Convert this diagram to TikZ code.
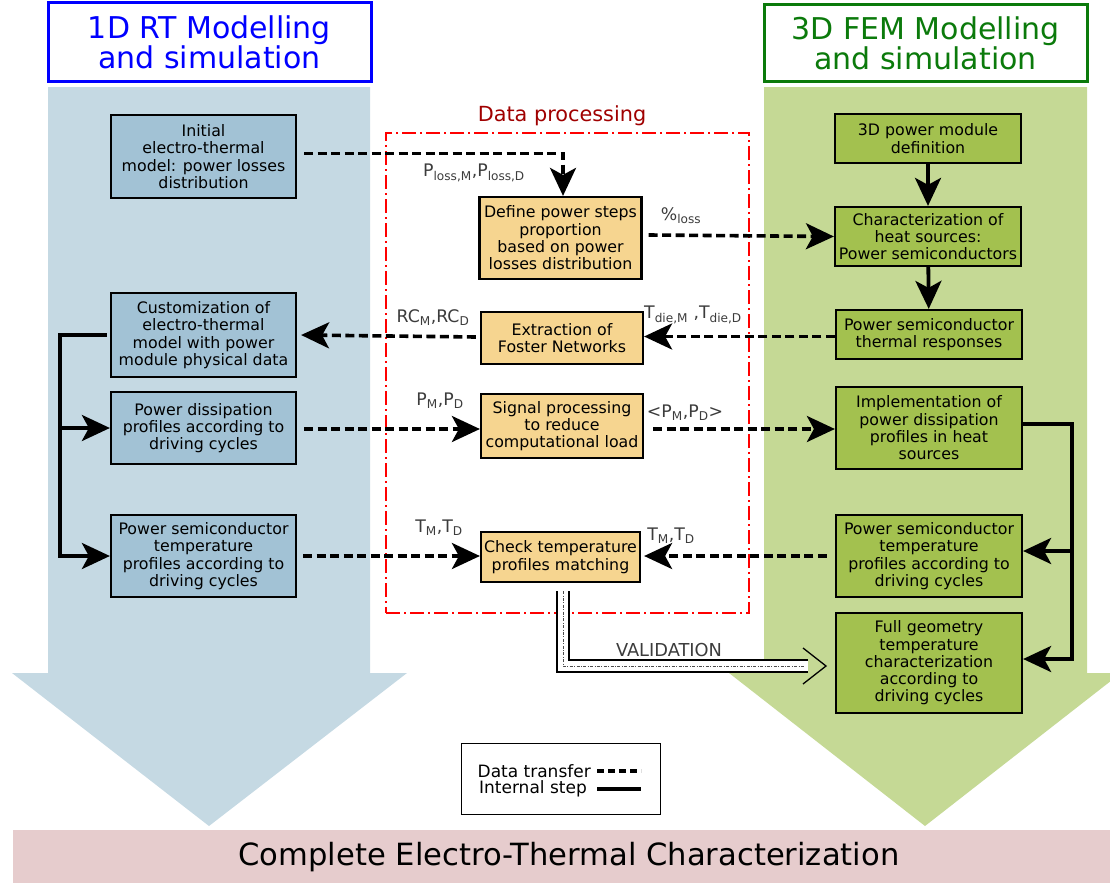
\documentclass[tikz,border=0pt]{standalone}
\usepackage{fontspec}
\setmainfont{DejaVu Sans}
\usetikzlibrary{arrows.meta}
\definecolor{lshaft}{HTML}{C5D9E3}
\definecolor{lnode}{HTML}{A2C2D5}
\definecolor{rshaft}{HTML}{C5D995}
\definecolor{rnode}{HTML}{A3C14F}
\definecolor{mnode}{HTML}{F6D590}
\definecolor{barpink}{HTML}{E6CCCD}
\definecolor{tgreen}{HTML}{0B7A0B}
\definecolor{tblue}{HTML}{0000FF}
\definecolor{dpred}{HTML}{A00000}
\definecolor{lblgray}{HTML}{3C3C3C}
\tikzset{
  box/.style={draw=black, line width=2.2pt, rectangle, align=center, inner sep=1pt,
    font=\fontsize{15.8}{17.3}\selectfont},
  lbox/.style={box, fill=lnode, minimum width=185pt},
  mbox/.style={box, fill=mnode, minimum width=162pt},
  rbox/.style={box, fill=rnode, minimum width=186pt},
  titlebox/.style={draw, line width=3pt, fill=white, minimum width=323pt, align=center,
    font=\fontsize{30}{30}\selectfont},
  tip/.style={-{Stealth[length=28pt,width=26pt,inset=7pt]}},
  dtrans/.style={tip, line width=3.6pt, dash pattern=on 9pt off 4.5pt},
  istep/.style={tip, line width=3.8pt},
  lbl/.style={text=lblgray, inner sep=0pt, font=\fontsize{17.3}{18}\selectfont},
}
\begin{document}
\begin{tikzpicture}[x=1pt,y=-1pt]
\useasboundingbox (0,0) rectangle (1110,883);
\clip (0,0) rectangle (1110,883);
% big arrows and bottom bar
\fill[lshaft] (48,87) -- (370,87) -- (370,673) -- (407,673) -- (209,826) -- (12,673) -- (48,673) -- cycle;
\fill[rshaft] (764,87) -- (1087,87) -- (1087,673) -- (1121,673) -- (925,826) -- (729,673) -- (764,673) -- cycle;
\fill[barpink] (13,830) rectangle (1110,883);
\node[font=\fontsize{30.6}{30}\selectfont, inner sep=0pt] (final) at (569,857) {Complete Electro-Thermal Characterization};
% titles
\node[titlebox, draw=tblue, text=tblue, minimum height=78pt] (ltitle) at (209.5,42) {1D RT Modelling\\and simulation};
\node[titlebox, draw=tgreen, text=tgreen, minimum height=76pt] (rtitle) at (925.5,43) {3D FEM Modelling\\and simulation};
% data processing frame
\node[draw=red, line width=2pt, dash pattern=on 14pt off 4pt on 2pt off 4pt, minimum width=363pt, minimum height=480pt] (dpbox) at (567.5,373) {};
\node[text=dpred, inner sep=0pt, font=\fontsize{20.8}{21}\selectfont] (dptitle) at (562,116) {Data processing};
% left nodes
\node[lbox, minimum height=83pt] (init) at (203.5,156.5) {Initial\\electro-thermal\\model: power losses\\distribution};
\node[lbox, minimum height=84pt] (cust) at (203.5,335) {Customization of\\electro-thermal\\model with power\\module physical data};
\node[lbox, minimum height=72pt] (diss) at (203.5,428) {Power dissipation\\profiles according to\\driving cycles};
\node[lbox, minimum height=82pt] (ltemp) at (203.5,556) {Power semiconductor\\temperature\\profiles according to\\driving cycles};
% middle nodes
\node[mbox, minimum height=82pt] (define) at (560.5,238) {Define power steps\\proportion\\based on power\\losses distribution};
\node[mbox, minimum height=52pt] (extract) at (562,338) {Extraction of\\Foster Networks};
\node[mbox, minimum height=64pt] (signal) at (562,426) {Signal processing\\to reduce\\computational load};
\node[mbox, minimum width=159pt, minimum height=50pt] (check) at (560.5,557) {Check temperature\\profiles matching};
% right nodes
\node[rbox, minimum height=49pt] (mod3d) at (928,138.5) {3D power module\\definition};
\node[rbox, minimum height=59pt] (char) at (928,236.5) {Characterization of\\heat sources:\\Power semiconductors};
\node[rbox, minimum height=49pt] (thermal) at (929,334.5) {Power semiconductor\\thermal responses};
\node[rbox, minimum height=82pt] (impl) at (929,428) {Implementation of\\power dissipation\\profiles in heat\\sources};
\node[rbox, minimum height=82pt] (rtemp) at (929,556) {Power semiconductor\\temperature\\profiles according to\\driving cycles};
\node[rbox, minimum height=100pt] (full) at (929,663) {Full geometry\\temperature\\characterization\\according to\\driving cycles};
% data transfer connectors
\draw[dtrans] ([xshift=7pt,yshift=3pt]init.east) -| ([xshift=2.5pt]define.north);
\draw[dtrans] ([xshift=6pt,yshift=3pt]define.east) -- (char.west);
\draw[dtrans] ([yshift=-2pt]thermal.west) -- ([yshift=-2pt]thermal.west -| extract.east);
\draw[dtrans] ([xshift=-4pt,yshift=1pt]extract.west) -- ([xshift=4pt]cust.east);
\draw[dtrans] ([xshift=7pt,yshift=-1pt]diss.east) -- ([yshift=-1pt]diss.east -| signal.west);
\draw[dtrans] ([xshift=9pt,yshift=-3pt]signal.east) -- ([yshift=-1pt]impl.west);
\draw[dtrans] ([xshift=6pt]ltemp.east) -- (ltemp.east -| check.west);
\draw[dtrans] ([xshift=-8pt]rtemp.west) -- ([xshift=3pt]rtemp.west -| check.east);
% internal steps
\draw[istep] (mod3d) -- (char);
\draw[istep] (char) -- (thermal);
\coordinate (lbx) at (60,0);
\draw[istep] ([xshift=-3pt]cust.west) -| (lbx |- ltemp.west) -- (ltemp.west);
\draw[istep] (lbx |- diss.west) -- (diss.west);
\coordinate (rbx) at (1072,0);
\coordinate (ie) at ([yshift=4pt]impl.east);
\coordinate (fe) at ([yshift=4pt]full.east);
\coordinate (re) at ([yshift=5pt]rtemp.east);
\draw[istep] (ie) -| (rbx |- fe) -- (fe);
\draw[istep] (rbx |- re) -- (re);
% labels
\node[lbl] (lploss) at (474,173) {P\textsubscript{loss,M},P\textsubscript{loss,D}};
\node[lbl] (lpct) at (681,216) {\%\textsubscript{loss}};
\node[lbl] (lrc) at (433,318) {RC\textsubscript{M},RC\textsubscript{D}};
\node[lbl] (ltdie) at (693,315) {T\textsubscript{die,M} ,T\textsubscript{die,D}};
\node[lbl] (lpm) at (440,401) {P\textsubscript{M},P\textsubscript{D}};
\node[lbl] (lpavg) at (685,413) {<P\textsubscript{M},P\textsubscript{D}>};
\node[lbl] (ltl) at (439,528) {T\textsubscript{M},T\textsubscript{D}};
\node[lbl] (ltr) at (671,536) {T\textsubscript{M},T\textsubscript{D}};
% validation
\coordinate (vc) at (563,666);
\coordinate (ve) at (808,666);
\coordinate (vt) at (826,666);
\draw[line width=1.3pt, double=white, double distance=10.7pt] ([yshift=-8pt]check.south -| vc) -- (vc) -- (ve);
\draw[dash pattern=on 3pt off 1.5pt on 0.8pt off 1.5pt, line width=0.6pt, black!70] ([yshift=-8pt]check.south -| vc) -- (vc) -- ([xshift=-3pt]ve);
\draw[line width=1.3pt] ([shift={(-23,-18)}]vt) -- (vt) -- ([shift={(-23,18)}]vt);
\node[lbl, font=\fontsize{17.8}{18}\selectfont] (lval) at (669,650) {VALIDATION};
% legend
\node[draw=black, line width=1pt, fill=white, minimum width=199pt, minimum height=71pt] (legend) at (560.5,778.5) {};
\node[inner sep=0pt, anchor=east, font=\fontsize{17}{17}\selectfont] (ldt) at (591,771) {Data transfer};
\node[inner sep=0pt, anchor=east, font=\fontsize{17}{17}\selectfont] (lis) at (587,789) {Internal step};
\coordinate (ld1) at (597,771);
\coordinate (ld2) at (641,771);
\coordinate (li1) at (597,789);
\coordinate (li2) at (641,789);
\draw[line width=4pt, dash pattern=on 7pt off 4pt] (ld1) -- (ld2);
\draw[line width=4pt] (li1) -- (li2);
\end{tikzpicture}
\end{document}
